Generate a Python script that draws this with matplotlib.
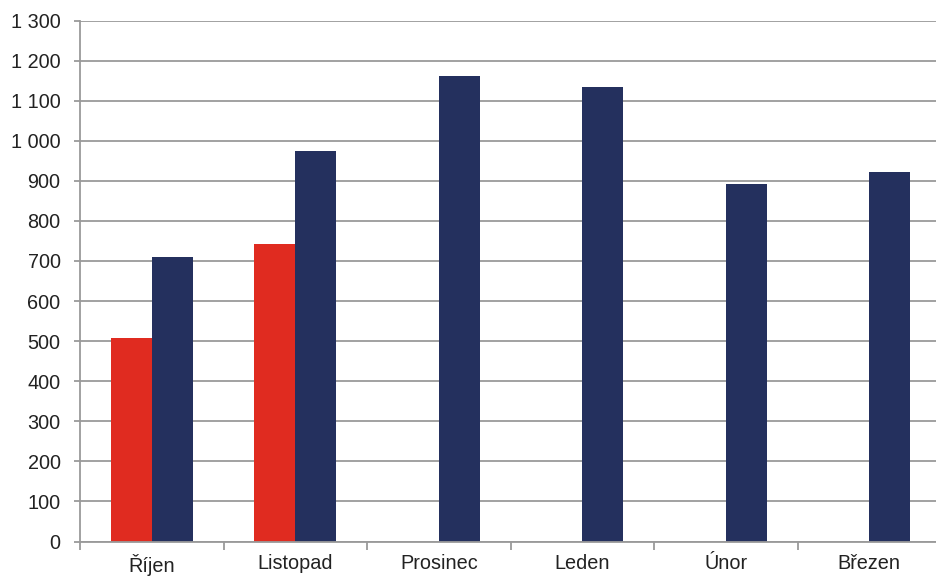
import numpy as np
import matplotlib
matplotlib.use("Agg")
import matplotlib.pyplot as plt
from matplotlib.ticker import FuncFormatter, FixedLocator

# Data
months = ["Říjen", "Listopad", "Prosinec", "Leden", "Únor", "Březen"]
red_values = [507, 742, 0, 0, 0, 0]
navy_values = [709, 974, 1161, 1134, 891, 922]

red_color = "#E02B20"
navy_color = "#24305E"
grid_color = "#9A9A9A"
text_color = "#222222"

plt.rcParams["font.family"] = ["Liberation Sans", "DejaVu Sans"]

fig = plt.figure(figsize=(9.37, 5.77), dpi=100)
ax = fig.add_axes([80 / 937, 1 - 541.5 / 577, 861 / 937, (541.5 - 20.5) / 577])

x = np.arange(len(months))
w = 0.286
ax.bar(x - w / 2, red_values, width=w, color=red_color, zorder=3)
ax.bar(x + w / 2, navy_values, width=w, color=navy_color, zorder=3)

ax.set_xlim(-0.5, len(months) - 0.5)
ax.set_ylim(0, 1300)
ax.set_yticks(np.arange(0, 1301, 100))
ax.yaxis.set_major_formatter(FuncFormatter(lambda v, p: f"{int(v):,}".replace(",", " ")))
ax.yaxis.grid(True, color=grid_color, linewidth=1.3, zorder=0)

ax.set_xticks(x)
ax.set_xticklabels(months)
ax.xaxis.set_minor_locator(FixedLocator(np.arange(-0.5, len(months), 1.0)))
ax.tick_params(axis="x", which="major", length=0, pad=9, labelsize=14.3, colors=text_color)
ax.tick_params(axis="x", which="minor", length=6, width=1.3, color=grid_color)
ax.tick_params(axis="y", length=4, width=1.3, color=grid_color, pad=10, labelsize=14.3, labelcolor=text_color)

for s in ["top", "right"]:
    ax.spines[s].set_visible(False)
for s in ["left", "bottom"]:
    ax.spines[s].set_color(grid_color)
    ax.spines[s].set_linewidth(1.3)
    ax.spines[s].set_zorder(4)

fig.savefig("out.png", dpi=100)
